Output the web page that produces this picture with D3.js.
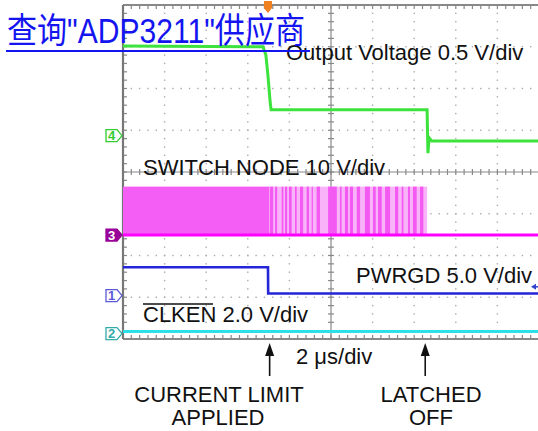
<html>
<head><meta charset="utf-8"/></head>
<script src='https://d3js.org/d3.v7.min.js'></script>
<style>
  body {margin: 0; background: #fff;}
  text {font-family: "Liberation Sans", Arial, sans-serif;}
</style>
<body>
<svg width=538 height=431></svg>
<script>
// time in us (10 div x 2 us), level in divisions from screen centre
var ch4 = [[0,3.02],[6.73,3.0],[6.87,2.8],[6.97,2.3],[7.07,1.7],[7.12,1.49],[14.62,1.49],[14.66,0.45],[14.72,0.82],[14.85,0.74],[20,0.74]];
var pwrgd = [[0,-2.28],[6.97,-2.28],[6.98,-2.91],[20,-2.91]];
var clken = [[0,-3.82],[20,-3.82]];
var swBase = -1.51, swTop = -0.35;
var swDenseEnd = 7.05, swEnd = 14.62;
var swPulses = [[7.07,0.15],[7.31,0.1],[7.63,0.08],[7.79,0.1],[7.98,0.13],[8.27,0.08],[8.51,0.15],[8.83,0.11],[9.07,0.06],[9.31,0.16],
  [9.86,0.42],[10.43,0.08],[10.67,0.15],[10.91,0.15],[11.24,0.16],[11.63,0.24],[12.02,0.13],[12.26,0.18],[12.6,0.24],[13.08,0.15],
  [13.4,0.08],[13.7,0.1],[13.94,0.18],[14.28,0.16]];
var markers = [["4",0.87],["3",-1.51],["1",-2.96],["2",-3.87]];
var trigT = 6.97;
var arrowsT = [7.05, 14.53];

var svg = d3.select("svg");
var x = d3.scaleLinear().domain([0,20]).range([123,539]);
var y = d3.scaleLinear().domain([-4,4]).range([339,5]);
var line = d3.line().x(function(d){return x(d[0]);}).y(function(d){return y(d[1]);});

// dotted graticule
var sub = d3.range(0,20.01,0.4), subY = d3.range(-4,4.01,0.2);
var g = svg.append("g").attr("fill","#aaa");
[2,4,6,8,12,14,16,18].forEach(function(t){
  g.selectAll(null).data(subY).enter().append("rect")
   .attr("x",x(t)-0.7).attr("y",function(d){return y(d)-0.7;}).attr("width",1.4).attr("height",1.4);
});
[-3,-2,-1,1,2,3].forEach(function(v){
  g.selectAll(null).data(sub).enter().append("rect")
   .attr("x",function(d){return x(d)-0.7;}).attr("y",y(v)-0.7).attr("width",1.4).attr("height",1.4);
});
// centre cross + frame with ticks
var ax = svg.append("g").attr("stroke","#888").attr("stroke-width",1.2);
ax.append("line").attr("x1",x(10)).attr("x2",x(10)).attr("y1",y(4)).attr("y2",y(-4));
ax.append("line").attr("x1",x(0)).attr("x2",x(20)).attr("y1",y(0)).attr("y2",y(0));
ax.selectAll(null).data(subY).enter().append("line")
  .attr("x1",x(10)-3).attr("x2",x(10)+3).attr("y1",function(d){return y(d);}).attr("y2",function(d){return y(d);});
ax.selectAll(null).data(sub).enter().append("line")
  .attr("y1",y(0)-3).attr("y2",y(0)+3).attr("x1",function(d){return x(d);}).attr("x2",function(d){return x(d);});
ax.selectAll(null).data(subY).enter().append("line")
  .attr("x1",x(0)).attr("x2",x(0)+4).attr("y1",function(d){return y(d);}).attr("y2",function(d){return y(d);});
ax.selectAll(null).data(sub).enter().append("line")
  .attr("y1",y(4)).attr("y2",y(4)+4).attr("x1",function(d){return x(d);}).attr("x2",function(d){return x(d);});
ax.selectAll(null).data(sub).enter().append("line")
  .attr("y1",y(-4)).attr("y2",y(-4)-4).attr("x1",function(d){return x(d);}).attr("x2",function(d){return x(d);});
svg.append("line").attr("x1",x(0)).attr("x2",x(20)).attr("y1",y(4)).attr("y2",y(4)).attr("stroke","#888").attr("stroke-width",2);
svg.append("line").attr("x1",x(0)).attr("x2",x(20)).attr("y1",y(-4)).attr("y2",y(-4)).attr("stroke","#888").attr("stroke-width",2);
svg.append("line").attr("x1",x(0)).attr("x2",x(0)).attr("y1",y(4)).attr("y2",y(-4)).attr("stroke","#777").attr("stroke-width",2.2);

// switch node
svg.append("rect").attr("x",x(0)).attr("y",y(swTop)).attr("width",x(swDenseEnd)-x(0)).attr("height",y(swBase)-y(swTop)).attr("fill","#f45ef4");
svg.append("rect").attr("x",x(swDenseEnd)).attr("y",y(swTop)).attr("width",x(swEnd)-x(swDenseEnd)).attr("height",y(swBase)-y(swTop)).attr("fill","#f9b4f9");
svg.selectAll(null).data(swPulses).enter().append("rect")
  .attr("x",function(d){return x(d[0]);}).attr("y",y(swTop))
  .attr("width",function(d){return x(d[0]+d[1])-x(d[0]);}).attr("height",y(swBase)-y(swTop)).attr("fill","#f25af2");
svg.append("path").datum([[0,swBase],[20,swBase]]).attr("d",line).attr("stroke","#f0f").attr("stroke-width",3).attr("fill","none");

// other traces
svg.append("path").datum(ch4).attr("d",line).attr("stroke","#3de33d").attr("stroke-width",3).attr("fill","none");
svg.append("path").datum(pwrgd).attr("d",line).attr("stroke","#2424d8").attr("stroke-width",2.6).attr("fill","none");
svg.append("path").datum(clken).attr("d",line).attr("stroke","#2de0e8").attr("stroke-width",3).attr("fill","none");

// channel markers
var mcol = {"4":"#33cc33","3":"#990099","1":"#5a5ad8","2":"#33aaaa"};
markers.forEach(function(m){
  var cy = y(m[1]), filled = m[0]=="3";
  svg.append("path").attr("d","M106,"+(cy-6)+"H117L122,"+cy+"L117,"+(cy+6)+"H106Z")
    .attr("fill",filled?mcol[m[0]]:"#fff").attr("stroke",mcol[m[0]]).attr("stroke-width",1.3);
  svg.append("text").attr("x",111.5).attr("y",cy+4.5).attr("text-anchor","middle").attr("font-size",13).attr("font-weight","bold")
    .attr("fill",filled?"#fff":mcol[m[0]]).text(m[0]);
});
// trigger and right level arrow
var tx = x(trigT);
svg.append("path").attr("d","M"+(tx-4)+",1H"+(tx+4)+"V8L"+tx+",13L"+(tx-4)+",8Z").attr("fill","#f08020");
svg.append("path").attr("d","M531,"+y(-2.75)+"l5,-3v6z").attr("fill","#3344cc");
svg.append("line").attr("x1",534).attr("x2",538).attr("y1",y(-2.75)).attr("y2",y(-2.75)).attr("stroke","#3344cc").attr("stroke-width",1.5);

// labels
var lab = svg.append("g").attr("font-size",22).attr("fill","#111");
lab.append("text").attr("x",286).attr("y",60).text("Output Voltage 0.5 V/div");
lab.append("text").attr("x",143).attr("y",175).text("SWITCH NODE 10 V/div");
lab.append("text").attr("x",356).attr("y",283).text("PWRGD 5.0 V/div");
lab.append("text").attr("x",143).attr("y",322).text("CLKEN  2.0 V/div");
lab.append("line").attr("x1",143).attr("x2",213).attr("y1",304).attr("y2",304).attr("stroke","#111").attr("stroke-width",1.3);
lab.append("text").attr("x",296).attr("y",364).text("2 \u03bcs/div");
lab.append("text").attr("x",219).attr("y",402).attr("text-anchor","middle").text("CURRENT LIMIT");
lab.append("text").attr("x",218).attr("y",425).attr("text-anchor","middle").text("APPLIED");
lab.append("text").attr("x",431).attr("y",402).attr("text-anchor","middle").text("LATCHED");
lab.append("text").attr("x",431).attr("y",425).attr("text-anchor","middle").text("OFF");
arrowsT.forEach(function(t){
  var ax2 = x(t);
  svg.append("line").attr("x1",ax2).attr("x2",ax2).attr("y1",352).attr("y2",376).attr("stroke","#111").attr("stroke-width",1.6);
  svg.append("path").attr("d","M"+ax2+",343L"+(ax2+4.5)+",356H"+(ax2-4.5)+"Z").attr("fill","#111");
});

// heading link
svg.append("text").attr("x",7).attr("y",43).attr("font-size",35).attr("fill","#1414f0")
  .attr("textLength",298).attr("lengthAdjust","spacingAndGlyphs")
  .style("font-family","'Liberation Sans','Noto Sans CJK SC',sans-serif").text("查询\"ADP3211\"供应商");
svg.append("line").attr("x1",6).attr("x2",310).attr("y1",51).attr("y2",51).attr("stroke","#1414f0").attr("stroke-width",2);
</script>
</body>
</html>
